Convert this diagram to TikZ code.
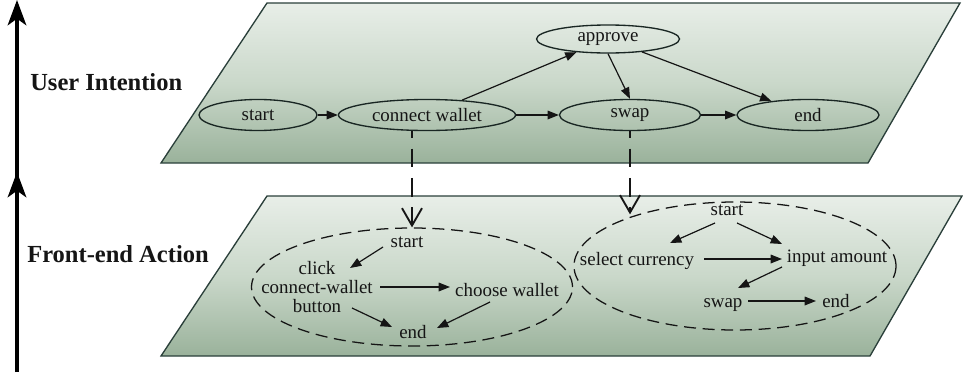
\documentclass[tikz,border=0pt]{standalone}
\usepackage{fontspec}
\setmainfont{Liberation Serif}
\usetikzlibrary{arrows.meta,shapes.geometric}

\definecolor{planetop}{HTML}{E8EEE8}
\definecolor{planemid}{HTML}{CAD8CA}
\definecolor{planebot}{HTML}{9AB29B}
\definecolor{planeedge}{HTML}{2A3F3A}
\definecolor{ink}{HTML}{151515}

\begin{document}
\begin{tikzpicture}[x=0.75pt,y=-0.75pt,
  plane/.style={draw=planeedge, line width=1pt,
    top color=planetop, bottom color=planebot, middle color=planemid},
  state/.style={ellipse, draw=planeedge!60!black, line width=1pt, inner sep=0pt,
    minimum height=23.25pt, font=\fontsize{14.2}{16}\selectfont, text=ink},
  act/.style={inner sep=1pt, font=\fontsize{14.2}{14.6}\selectfont, text=ink, align=center},
  one/.style={text height=9.5pt, text depth=3pt},
  group/.style={ellipse, draw=ink, line width=0.95pt, dash pattern=on 9pt off 5pt, inner sep=0pt},
  arr/.style={-{Triangle[length=8.5pt,width=6.5pt]}, line width=0.9pt, draw=ink},
  layer/.style={font=\bfseries\fontsize{18.4}{20}\selectfont, text=ink, inner sep=0pt, anchor=base west},
  refine/.style={draw=ink, line width=1.8pt, dash pattern=on 14pt off 8pt, dash phase=9pt,
    -{Straight Barb[length=13pt,width=15pt,line width=1.4pt]}},
  level/.style={draw=black, line width=2.3pt, -{Stealth[length=19pt,width=14pt,inset=5pt]}}
]
\useasboundingbox (0,0) rectangle (963,375);

% the two planes
\path[plane] (161,163) -- (267,3) -- (960,3) -- (868,163) -- cycle;
\path[plane] (161,356) -- (267,196) -- (962,196) -- (870,356) -- cycle;

% level axis on the left
\coordinate (ax1a) at (17,180);
\coordinate (ax1b) at (17,0);
\coordinate (ax2a) at (17,372);
\coordinate (ax2b) at (17,172);
\draw[level] (ax1a) -- (ax1b);
\draw[level] (ax2a) -- (ax2b);

\node[layer] (ui) at (30,90) {User Intention};
\node[layer] (fa) at (27,262) {Front-end Action};

% user intention graph
\node[state, minimum width=88.5pt]  (st) at (258,115) {start};
\node[state, minimum width=132.75pt] (cw) at (427,115) {connect wallet};
\node[state, minimum width=107.25pt, minimum height=21pt] (ap) at (608,39) {approve};
\node[state, minimum width=105.75pt] (sw) at (630,115) {swap};
\node[state, minimum width=106.5pt]  (en) at (808,115) {end};

\draw[arr] (st) -- (cw);
\draw[arr] (cw) -- (sw);
\draw[arr] (sw) -- (en);
\draw[arr] (cw.23) -- (ap);
\draw[arr] (ap.south) -- (sw.north);
\draw[arr] (ap) -- (en);

% front-end action groups
\node[group, minimum width=240.75pt, minimum height=88.5pt] (lgrp) at (412,287) {};
\node[group, minimum width=241.5pt, minimum height=96pt] (rgrp) at (735,266) {};

% connect wallet actions
\node[act, one] (ls) at (407,243) {start};
\node[act] (lclick) at (317,287) {click\\connect-wallet\\button};
\node[act, one] (lchoose) at (507,292) {choose wallet};
\node[act, one] (lend) at (413,334) {end};

\draw[arr] ([shift={(-24,4)}]ls.center) -- ([shift={(33,-19)}]lclick.center);
\draw[arr] ([shift={(63,0)}]lclick.center) -- ([shift={(-57,-5)}]lchoose.center);
\draw[arr] ([shift={(35,21)}]lclick.center) -- ([shift={(-21,-7)}]lend.center);
\draw[arr] ([shift={(-17,10)}]lchoose.center) -- ([shift={(24,-6)}]lend.center);

% swap actions
\node[act, one] (rs) at (727,211) {start};
\node[act, one] (rsel) at (637,261) {select currency};
\node[act, one] (rin) at (837,258) {input amount};
\node[act, one] (rsw) at (723,303) {swap};
\node[act, one] (rend) at (836,303) {end};

\draw[arr] ([shift={(-12,12)}]rs.center) -- ([shift={(33,-18)}]rsel.center);
\draw[arr] ([shift={(10,12)}]rs.center) -- ([shift={(-55,-14)}]rin.center);
\draw[arr] ([shift={(67,-2)}]rsel.center) -- ([shift={(-55,1)}]rin.center);
\draw[arr] ([shift={(-55,9)}]rin.center) -- ([shift={(15,-15)}]rsw.center);
\draw[arr] ([shift={(25,-2)}]rsw.center) -- ([shift={(-20,-2)}]rend.center);

% refinement links between the planes
\draw[refine] ([shift={(-15,0)}]cw.south) -- (lgrp.north);
\draw[refine] (sw.south) -- ([shift={(-105,13)}]rgrp.north);
\end{tikzpicture}
\end{document}
